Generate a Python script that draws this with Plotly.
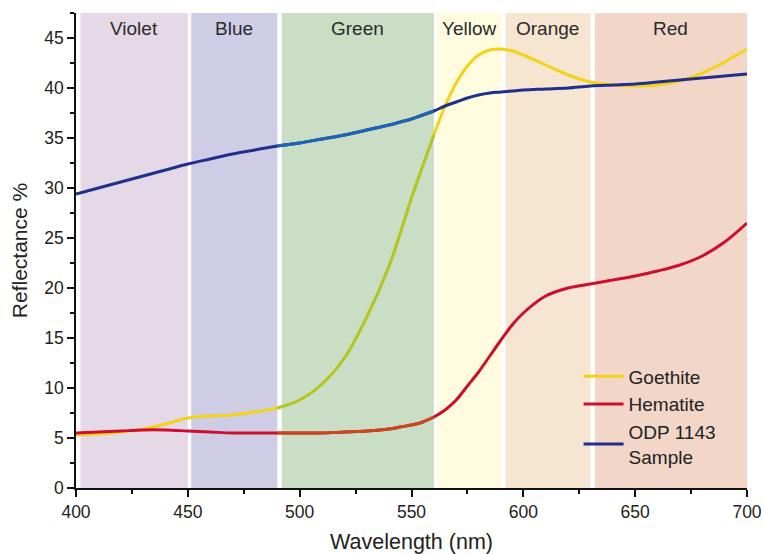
import plotly.graph_objects as go

# Spectral reflectance curves (wavelength in nm, reflectance in %)
wavelength = [400, 410, 420, 430, 440, 450, 460, 470, 480, 490, 500, 510, 520, 530,
              540, 545, 550, 555, 560, 565, 570, 575, 580, 585, 590, 595, 600,
              610, 620, 630, 640, 650, 660, 670, 680, 690, 700]

goethite = [5.3, 5.4, 5.6, 5.9, 6.4, 7.0, 7.2, 7.3, 7.6, 8.0, 8.8, 10.4, 13.0, 17.1,
            22.2, 25.5, 29.0, 32.2, 35.3, 38.2, 40.5, 42.2, 43.3, 43.8, 43.9, 43.7, 43.3,
            42.3, 41.3, 40.6, 40.3, 40.2, 40.3, 40.7, 41.5, 42.6, 43.9]

hematite = [5.5, 5.6, 5.7, 5.8, 5.8, 5.7, 5.6, 5.5, 5.5, 5.5, 5.5, 5.5, 5.6, 5.7,
            5.9, 6.1, 6.3, 6.6, 7.1, 7.8, 8.8, 10.2, 11.6, 13.2, 14.8, 16.3, 17.5,
            19.2, 20.0, 20.4, 20.8, 21.2, 21.7, 22.3, 23.2, 24.6, 26.5]

odp_sample = [29.4, 30.0, 30.6, 31.2, 31.8, 32.4, 32.9, 33.4, 33.8, 34.2, 34.5, 34.9, 35.3, 35.8,
              36.3, 36.6, 36.9, 37.3, 37.7, 38.2, 38.6, 39.0, 39.3, 39.5, 39.6, 39.7, 39.8,
              39.9, 40.0, 40.2, 40.3, 40.4, 40.6, 40.8, 41.0, 41.2, 41.4]

# Visible-spectrum colour bands
band_names = ["Violet", "Blue", "Green", "Yellow", "Orange", "Red"]
band_start = [402, 451.5, 492, 561.5, 592, 632]
band_end = [450, 490, 560, 590, 630, 700]
band_colors = ["#e6d9e7", "#cfcde6", "#c9dec5", "#fefbdf", "#f6e5d1", "#f2d6c8"]

series = [
    ("Goethite", goethite, "#f2d318", "#aec62c"),
    ("Hematite", hematite, "#cc0f2e", "#c8481e"),
    ("ODP 1143<br>Sample", odp_sample, "#1f2f8c", "#1e64b4"),
]

fig = go.Figure()

for name, values, color, green_tint in series:
    fig.add_trace(go.Scatter(
        x=wavelength, y=values, mode="lines", name=name,
        line=dict(color=color, width=3, shape="spline", smoothing=1.0),
    ))

# Portions of each curve inside the green band are drawn in a tinted colour
green_lo, green_hi = 490, 560
for name, values, color, green_tint in series:
    seg = [(w, v) for w, v in zip(wavelength, values) if green_lo <= w <= green_hi]
    fig.add_trace(go.Scatter(
        x=[w for w, _ in seg], y=[v for _, v in seg], mode="lines",
        showlegend=False, hoverinfo="skip",
        line=dict(color=green_tint, width=3, shape="spline", smoothing=1.0),
    ))

y_top = 47.5
for name, x0, x1, col in zip(band_names, band_start, band_end, band_colors):
    fig.add_shape(type="rect", xref="x", yref="y", x0=x0, x1=x1, y0=0, y1=y_top,
                  fillcolor=col, line=dict(width=0), layer="below")
    fig.add_annotation(x=(x0 + x1) / 2, y=46.0, text=name, showarrow=False,
                       font=dict(size=19, color="#2a2a2a"), xanchor="center", yanchor="middle")

font_family = "Liberation Sans, Arial, Helvetica, sans-serif"

fig.update_layout(
    width=764, height=554,
    margin=dict(l=76, r=17, t=13, b=66),
    paper_bgcolor="white", plot_bgcolor="white",
    font=dict(family=font_family, size=17, color="#222222"),
    showlegend=True,
    legend=dict(
        x=0.749, y=0.275, xanchor="left", yanchor="top",
        bgcolor="rgba(0,0,0,0)", font=dict(size=19, color="#222222"),
        tracegroupgap=0, itemwidth=40,
    ),
    xaxis=dict(
        range=[400, 700], dtick=50, tick0=400, automargin=False,
        showgrid=False, zeroline=False,
        showline=True, linecolor="#111111", linewidth=1.5,
        ticks="outside", ticklen=7, tickwidth=1.5, tickcolor="#111111",
        minor=dict(ticks="outside", ticklen=4, dtick=25, tickwidth=1.5, tickcolor="#111111", showgrid=False),
        tickfont=dict(size=17.5),
        title=dict(text="Wavelength (nm)", font=dict(size=21.5), standoff=14),
    ),
    yaxis=dict(
        range=[0, y_top], dtick=5, tick0=0, automargin=False,
        showgrid=False, zeroline=False,
        showline=True, linecolor="#111111", linewidth=1.5,
        ticks="outside", ticklen=7, tickwidth=1.5, tickcolor="#111111",
        minor=dict(ticks="outside", ticklen=4, dtick=2.5, tickwidth=1.5, tickcolor="#111111", showgrid=False),
        tickfont=dict(size=17.5),
        title=dict(text="Reflectance %", font=dict(size=21), standoff=11),
    ),
)

fig.write_html("out.html")
